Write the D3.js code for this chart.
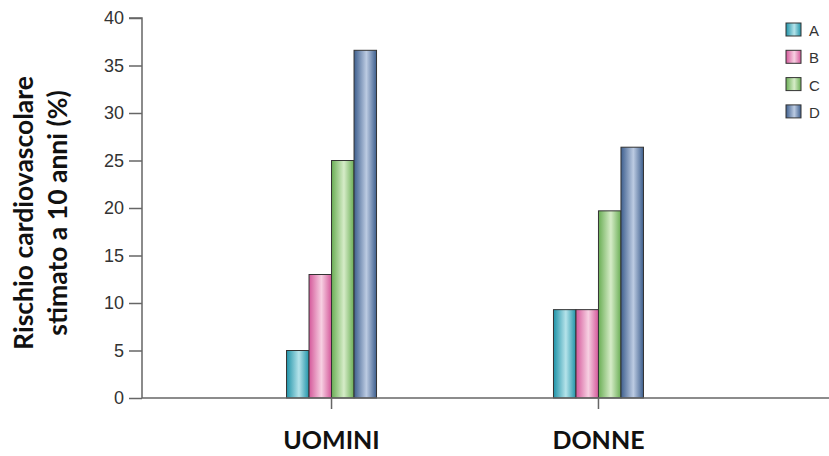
<!DOCTYPE html>
<html><head><meta charset="utf-8">
<script src="https://cdn.jsdelivr.net/npm/d3@7"></script>
<style>body{margin:0;background:#fff}svg{display:block}</style>
</head><body>
<svg id="c" width="829" height="456"></svg>
<script>
const categories = ["UOMINI", "DONNE"];
const seriesNames = ["A", "B", "C", "D"];
const valuesA = [5, 9.3];
const valuesB = [13, 9.3];
const valuesC = [25, 19.7];
const valuesD = [36.6, 26.4];
const yTicks = [0, 5, 10, 15, 20, 25, 30, 35, 40];
const yLabelLines = ["Rischio cardiovascolare", "stimato a 10 anni (%)"];

const seriesValues = [valuesA, valuesB, valuesC, valuesD];
const colors = [
  {edge:"#1f93a8", mid:"#b5e3ea"},
  {edge:"#d4589a", mid:"#f7d0e2"},
  {edge:"#6aae55", mid:"#d6ecc8"},
  {edge:"#3e5f8e", mid:"#bccbe2"}
];

const svg = d3.select("#c");
const defs = svg.append("defs");
colors.forEach((c,i)=>{
  const g = defs.append("linearGradient").attr("id","g"+i).attr("x1","0").attr("x2","1").attr("y1","0").attr("y2","0");
  g.append("stop").attr("offset","0").attr("stop-color",c.edge);
  g.append("stop").attr("offset","0.55").attr("stop-color",c.mid);
  g.append("stop").attr("offset","1").attr("stop-color",c.edge);
});

const x0 = 142, y0 = 398;
const y = d3.scaleLinear().domain([0,40]).range([y0,18]);
const x = d3.scaleBand().domain(categories).range([x0, 788]).paddingInner(0).paddingOuter(0.21);
const x1 = d3.scaleBand().domain(seriesNames).range([0, 90]).padding(0);

// bars
categories.forEach((cat,ci)=>{
  const cx = x(cat) + x.bandwidth()/2;
  seriesNames.forEach((s,si)=>{
    const v = seriesValues[si][ci];
    svg.append("rect")
      .attr("x", cx - 45 + x1(s))
      .attr("y", y(v))
      .attr("width", x1.bandwidth())
      .attr("height", y0 - y(v))
      .attr("fill", "url(#g"+si+")")
      .attr("stroke", "#333")
      .attr("stroke-width", 1);
  });
});

// y axis
const yAxis = svg.append("g").attr("transform",`translate(${x0},0)`)
  .call(d3.axisLeft(y).tickValues(yTicks).tickSize(13).tickPadding(5));
yAxis.select(".domain").attr("stroke","#666").attr("stroke-width",1.5).attr("d",`M-13,${y(40)}H0V${y0}`);
yAxis.selectAll(".tick line").attr("stroke","#666").attr("stroke-width",1.5);
yAxis.selectAll(".tick text").attr("fill","#333").style("font-family","'Liberation Sans', Arial, sans-serif").style("font-size","18px");

// x axis
const xAxis = svg.append("g").attr("transform",`translate(0,${y0})`)
  .call(d3.axisBottom(x).tickSize(11).tickPadding(22));
xAxis.select(".domain").attr("stroke","#666").attr("stroke-width",1.5).attr("d",`M${x0},0H829`);
xAxis.selectAll(".tick line").attr("stroke","#666").attr("stroke-width",1.5);
xAxis.selectAll(".tick text").attr("fill","#111").style("font-family","Lato, 'Open Sans', sans-serif").style("font-weight","bold").style("font-size","25px");

// y label
const yl = svg.append("text").attr("transform","translate(0,213) rotate(-90)")
  .attr("text-anchor","middle").style("font-family","Lato, 'Open Sans', sans-serif")
  .style("font-weight","bold").style("font-size","26.5px").attr("fill","#111");
yLabelLines.forEach((t,i)=>{
  yl.append("tspan").attr("x",0).attr("y", 33 + i*34).text(t);
});

// legend
const leg = svg.append("g");
seriesNames.forEach((s,i)=>{
  const gy = 23 + i*27.3;
  leg.append("rect").attr("x",786).attr("y",gy).attr("width",15).attr("height",13)
    .attr("fill","url(#g"+i+")").attr("stroke","#333").attr("stroke-width",1);
  leg.append("text").attr("x",809).attr("y",gy+13).text(s)
    .attr("fill","#333").style("font-family","'Liberation Sans', Arial, sans-serif").style("font-size","15px");
});
</script>
</body></html>
